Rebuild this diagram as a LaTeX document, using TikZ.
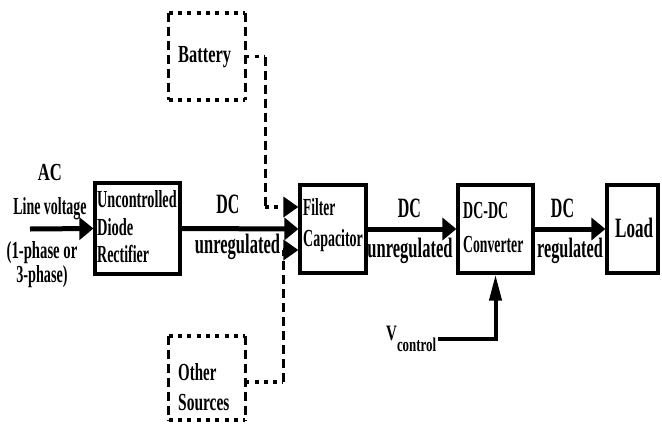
\documentclass[tikz,border=0pt]{standalone}
\usepackage{fontspec}
\setmainfont{Liberation Serif}
\usetikzlibrary{arrows.meta}
\newcommand\sx[3]{\scalebox{#2}[1]{\fontsize{#1}{#1}\selectfont\bfseries #3}}
\begin{document}
\begin{tikzpicture}[x=1pt,y=1pt,
  box/.style={draw, line width=3.2pt, inner sep=0pt, rectangle},
  ghost/.style={inner sep=0pt, rectangle},
  lbl/.style={inner sep=0pt},
  arr/.style={line width=5pt, -{Triangle[length=14pt,width=22pt]}},
  arrv/.style={line width=4pt, -{Triangle[length=26pt,width=12pt]}},
  hd/.style={line width=3.5pt, dash pattern=on 4pt off 5.3pt},
  vd/.style={line width=3pt, dash pattern=on 9pt off 5pt},
  dtip/.style={-{Triangle[length=15pt,width=20pt]}}]
\useasboundingbox (0,0) rectangle (662,-429);

% blocks
\node[box, minimum width=85pt, minimum height=91pt] (rect) at (137.5,-228.5) {};
\node[box, minimum width=66pt, minimum height=88pt] (filt) at (333,-229) {};
\node[box, minimum width=75pt, minimum height=88pt] (conv) at (495.5,-229) {};
\node[box, minimum width=51pt, minimum height=88pt] (load) at (632.5,-229) {};
\node[ghost, minimum width=76pt, minimum height=87pt] (batt) at (207,-56.5) {};
\node[ghost, minimum width=76pt, minimum height=84pt] (oth) at (207,-378) {};

% dashed boxes
\draw[hd] (batt.north west) -- (batt.north east);
\draw[hd] (batt.south west) -- (batt.south east);
\draw[vd] (batt.north west) -- (batt.south west);
\draw[vd] (batt.north east) -- (batt.south east);
\draw[hd] (oth.north west) -- (oth.north east);
\draw[hd] (oth.south west) -- (oth.south east);
\draw[vd] (oth.north west) -- (oth.south west);
\draw[vd] (oth.north east) -- (oth.south east);

% block texts
\node[lbl, anchor=base west] (t1) at (97,-207) {\sx{24.5}{0.58}{Uncontrolled}};
\node[lbl, anchor=base west] (t2) at (97,-235) {\sx{24.5}{0.59}{Diode}};
\node[lbl, anchor=base west] (t3) at (97,-262) {\sx{24.5}{0.57}{Rectifier}};
\node[lbl, anchor=base west] (t4) at (303,-215) {\sx{24.5}{0.55}{Filter}};
\node[lbl, anchor=base west] (t5) at (303,-246) {\sx{24.5}{0.57}{Capacitor}};
\node[lbl, anchor=base west] (t6) at (463,-218) {\sx{24.5}{0.57}{DC-DC}};
\node[lbl, anchor=base west] (t7) at (463,-252) {\sx{24.5}{0.56}{Converter}};
\node[lbl, anchor=base west] (t8) at (615,-237) {\sx{28}{0.61}{Load}};
\node[lbl, anchor=base west] (t9) at (178,-62) {\sx{24.5}{0.67}{Battery}};
\node[lbl, anchor=base west] (t10) at (178,-380) {\sx{24.5}{0.61}{Other}};
\node[lbl, anchor=base west] (t11) at (178,-410) {\sx{24.5}{0.63}{Sources}};

% input labels
\node[lbl, anchor=base] (a1) at (50,-180) {\sx{24.5}{0.68}{AC}};
\node[lbl, anchor=base] (a2) at (50,-214) {\sx{24.5}{0.57}{Line voltage}};
\node[lbl, anchor=base] (a3) at (42,-258) {\sx{24.5}{0.60}{(1-phase or}};
\node[lbl, anchor=base] (a4) at (42,-282) {\sx{24.5}{0.58}{3-phase)}};

% link labels
\node[lbl, anchor=base] (l1) at (228,-213) {\sx{28}{0.57}{DC}};
\node[lbl, anchor=base] (l2) at (237.5,-253) {\sx{28}{0.59}{unregulated}};
\node[lbl, anchor=base] (l3) at (409.5,-217) {\sx{28}{0.57}{DC}};
\node[lbl, anchor=base] (l4) at (410,-257) {\sx{28}{0.59}{unregulated}};
\node[lbl, anchor=base] (l5) at (562.5,-217) {\sx{28}{0.57}{DC}};
\node[lbl, anchor=base] (l6) at (570,-257) {\sx{28}{0.58}{regulated}};

% control label
\node[lbl, anchor=base west] (vc) at (386,-340) {\sx{22}{0.68}{V}\raisebox{-11pt}{\sx{19.5}{0.66}{control}}};

% main connectors
\coordinate (acin) at (30,-229);
\draw[arr] (acin) -- (rect.west);
\draw[arr] (rect.east) -- (filt.west);
\draw[arr] (filt.east) -- (conv.west);
\draw[arr] (conv.east) -- (load.west);

% control connector
\coordinate (vcs) at (438,-339);
\draw[arrv] (vcs) -| (conv.south);

% battery connector
\coordinate (b1) at (265,-56.5);
\coordinate (b2) at (265,-207);
\draw[hd] (batt.east) -- (b1);
\draw[vd] (b1) -- (b2);
\draw[hd, dtip] (b2) -- (filt.west |- b2);

% other sources connector
\coordinate (o1) at (283,-382);
\coordinate (o2) at (283,-250);
\draw[hd] (oth.east |- o1) -- (o1);
\draw[vd] (o1) -- (o2);
\draw[hd, dtip] (o2) -- (filt.west |- o2);
\end{tikzpicture}
\end{document}
